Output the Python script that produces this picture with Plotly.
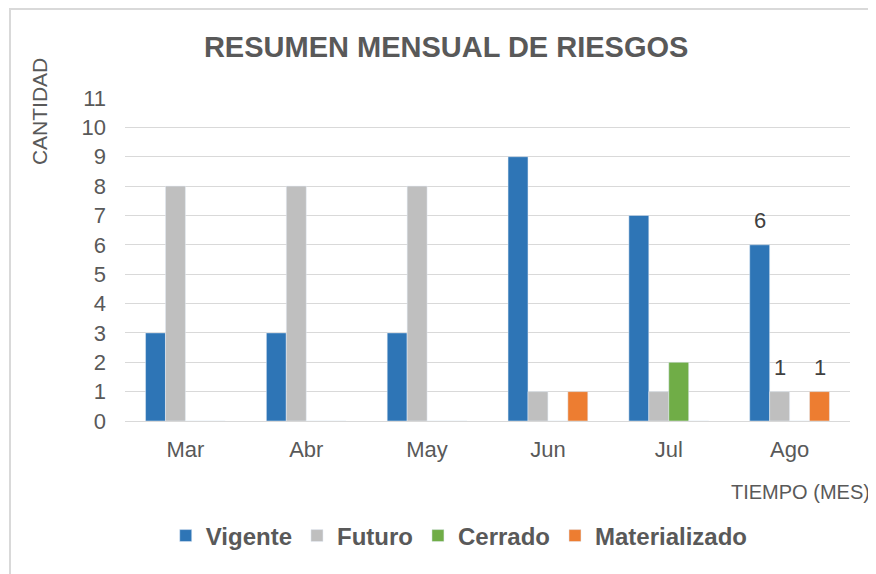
import plotly.graph_objects as go

# Data
meses = ["Mar", "Abr", "May", "Jun", "Jul", "Ago"]
vigente = [3, 3, 3, 9, 7, 6]
futuro = [8, 8, 8, 1, 1, 1]
cerrado = [0, 0, 0, 0, 2, 0]
materializado = [0, 0, 0, 1, 0, 1]

series = [
    ("Vigente", vigente, "#2E75B6"),
    ("Futuro", futuro, "#BFBFBF"),
    ("Cerrado", cerrado, "#70AD47"),
    ("Materializado", materializado, "#ED7D31"),
]

txt = "#595959"
fnt = "Liberation Sans, Arial, sans-serif"

fig = go.Figure()
for name, vals, col in series:
    fig.add_trace(go.Bar(x=meses, y=vals, name="<b>" + name + "</b>", marker_color=col))

annotations = []
# value labels, only on the last month (Excel style, sitting a bit above the bars)
offsets = [-30, -10, 10, 30]
for (name, vals, col), dx in zip(series, offsets):
    if vals[-1]:
        annotations.append(dict(x=meses[-1], y=vals[-1], xshift=dx, yshift=10, text=str(vals[-1]),
                                yanchor="bottom", showarrow=False, font=dict(size=22, color="#404040")))

annotations.append(dict(xref="paper", yref="paper", x=-0.117, y=0.957, text="CANTIDAD", textangle=-90,
                        xanchor="center", yanchor="middle", font=dict(size=21, color=txt), showarrow=False))
annotations.append(dict(xref="paper", yref="paper", x=1.03, y=-0.22, text="TIEMPO (MES)",
                        xanchor="right", yanchor="middle", font=dict(size=20, color=txt), showarrow=False))

# chart border (only top and left edges fall inside the picture)
shapes = [dict(type="rect", xref="paper", yref="paper", x0=-0.1586, x1=1.2, y0=-0.7, y1=1.2755,
               line=dict(color="#D9D9D9", width=2), fillcolor="rgba(0,0,0,0)", layer="below")]

# page body adds an 8px offset, so the figure is 8px smaller than the window
fig.update_layout(width=868, height=566, margin=dict(l=117, r=26, t=90, b=153),
                  barmode="group", bargap=0.34, bargroupgap=0,
                  plot_bgcolor="#FFFFFF", paper_bgcolor="#FFFFFF",
                  font=dict(family=fnt, color=txt),
                  title=dict(text="<b>RESUMEN MENSUAL DE RIESGOS</b>", x=0.443, xref="paper", xanchor="center",
                             y=0.931, yanchor="middle", font=dict(size=29, color=txt)),
                  legend=dict(orientation="h", x=0.461, xanchor="center", y=-0.356, yanchor="middle",
                              font=dict(size=24, color=txt), itemwidth=30, traceorder="normal"),
                  annotations=annotations, shapes=shapes)
fig.update_xaxes(showline=True, linecolor="#D9D9D9", linewidth=1, tickfont=dict(size=22, color=txt),
                 ticks="", ticklabelstandoff=9)
fig.update_yaxes(range=[0, 11], dtick=1, showgrid=True, gridcolor="#D9D9D9", gridwidth=1, zeroline=False,
                 tickfont=dict(size=22, color=txt), ticklabelstandoff=18)

fig.write_html("out.html")
